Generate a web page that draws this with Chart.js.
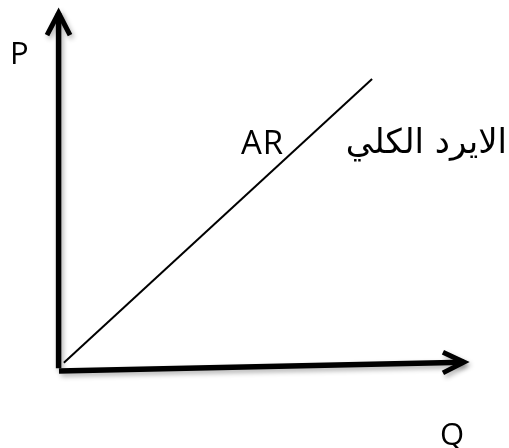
<!DOCTYPE html>
<html>
<head>
<meta charset="utf-8">
<script src="https://cdn.jsdelivr.net/npm/chart.js@4.4.0/dist/chart.umd.min.js"></script>
<style>
html,body{margin:0;padding:0;background:#fff;}
#wrap{width:509px;height:448px;}
</style>
</head>
<body>
<div id="wrap"><canvas id="c" width="509" height="448"></canvas></div>
<script>
// Average revenue line (AR): quantity Q vs price P
const arQ = [1.2, 77.3];
const arP = [2.0, 81.5];
// Axis lines (drawn as series) with arrowheads
const xAxisQ = [0, 100];
const xAxisP = [-0.3, 2.2];
const xArrowQ = [94.8, 100, 94.8];
const xArrowP = [5.0, 2.2, -0.8];
const yAxisQ = [-0.1, -0.1];
const yAxisP = [0.5, 100];
const yArrowQ = [-2.96, -0.1, 2.72];
const yArrowP = [93.8, 100, 93.8];
// Text labels
const yLabel = 'P';
const xLabel = 'Q';
const lineLabel = 'AR';
const arabicLabel = 'الايرد الكلي';

function pts(qs, ps){ return qs.map((q,i)=>({x:q, y:ps[i]})); }

function ds(data, width, shadow){
  return {data, showLine:true, pointRadius:0, borderColor:'#000', backgroundColor:'#000',
    borderWidth:width, borderCapStyle:'butt', borderJoinStyle:'miter', clip:false, fill:false,
    tension:0, shadow};
}

const shadowPlugin = {
  id:'shadow',
  beforeDatasetDraw(chart, args){
    const d = chart.data.datasets[args.index];
    if(d.shadow){
      const ctx = chart.ctx;
      ctx.save();
      ctx.shadowColor='rgba(0,0,0,0.3)';
      ctx.shadowBlur=5;
      ctx.shadowOffsetX=2;
      ctx.shadowOffsetY=3;
    }
  },
  afterDatasetDraw(chart, args){
    const d = chart.data.datasets[args.index];
    if(d.shadow){ chart.ctx.restore(); }
  }
};

const labelPlugin = {
  id:'labels',
  afterDraw(chart){
    const ctx = chart.ctx;
    ctx.save();
    ctx.fillStyle='#000';
    ctx.textBaseline='alphabetic';
    ctx.font='31px "Open Sans", Lato, sans-serif';
    ctx.textAlign='left';
    ctx.fillText(yLabel, 10, 64);
    ctx.fillText(xLabel, 440, 445);
    ctx.font='33px "Open Sans", Lato, sans-serif';
    try { ctx.letterSpacing = '1px'; } catch(e) {}
    ctx.fillText(lineLabel, 241, 154);
    try { ctx.letterSpacing = '0px'; } catch(e) {}
    ctx.font='34px "DejaVu Sans", "Noto Sans", sans-serif';
    ctx.textAlign='right';
    ctx.direction='rtl';
    ctx.fillText(arabicLabel, 507, 153);
    ctx.restore();
  }
};

new Chart(document.getElementById('c'), {
  type:'scatter',
  data:{datasets:[
    ds(pts(arQ, arP), 2, false),
    ds(pts(yAxisQ, yAxisP), 5.5, true),
    ds(pts(yArrowQ, yArrowP), 5, true),
    ds(pts(xAxisQ, xAxisP), 5.5, true),
    ds(pts(xArrowQ, xArrowP), 5, true)
  ]},
  options:{
    responsive:false,
    animation:false,
    layout:{padding:{left:2.3,right:0.45,top:13,bottom:78}},
    plugins:{legend:{display:false},tooltip:{enabled:false}},
    scales:{
      x:{type:'linear',min:-14,max:111,display:false},
      y:{type:'linear',min:0,max:100,display:false}
    }
  },
  plugins:[shadowPlugin,labelPlugin]
});
</script>
</body>
</html>
